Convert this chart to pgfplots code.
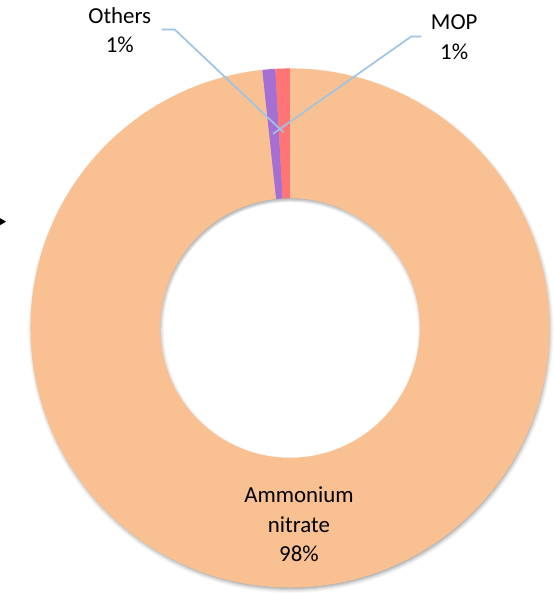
\documentclass[border=0pt]{standalone}
\usepackage{pgfplots}
\pgfplotsset{compat=1.18}
\usepackage{pgfplotstable}
\usepackage{fontspec}
\setmainfont{Carlito}

\definecolor{anorange}{HTML}{F9C191}
\definecolor{othpurple}{HTML}{A56FD3}
\definecolor{mopred}{HTML}{FF7575}
\definecolor{leader}{HTML}{9DC3E6}

% shares in percent, drawn clockwise from 12 o'clock
\pgfplotstableread{
name value
Ammonium 98.3
Others 0.8
MOP 0.9
}\sharetable

\pgfplotstablegetelem{0}{value}\of\sharetable \let\vAN\pgfplotsretval
\pgfplotstablegetelem{1}{value}\of\sharetable \let\vOT\pgfplotsretval
\pgfplotstablegetelem{2}{value}\of\sharetable \let\vMO\pgfplotsretval

\pgfmathsetmacro{\aA}{90}
\pgfmathsetmacro{\aB}{\aA-3.6*\vAN}
\pgfmathsetmacro{\aC}{\aB-3.6*\vOT}
\pgfmathsetmacro{\aD}{\aC-3.6*\vMO}

\def\Ro{260}
\def\Ri{130}

\newcommand{\ringseg}[3]{%
  \fill[#1] ([shift={(#2:\Ro bp)}]C) arc[start angle=#2, end angle=#3, radius=\Ro bp]
    -- ([shift={(#3:\Ri bp)}]C) arc[start angle=#3, end angle=#2, radius=\Ri bp] -- cycle;}
% one layer of the soft shadow: spread, opacity
\newcommand{\shadowring}[2]{%
  \fill[black, opacity=#2, even odd rule]
    ([shift={(1bp,-2.5bp)}]C) circle[radius=257bp+#1bp]
    ([shift={(1bp,-2.5bp)}]C) circle[radius=133bp-#1bp];}

\begin{document}
\begin{tikzpicture}
\begin{axis}[
  hide axis,
  scale only axis,
  width=557bp, height=593bp,
  xmin=0, xmax=557, ymin=0, ymax=593,
  y dir=reverse,
  clip=false,
]
\coordinate (C) at (axis cs:290.5,328.5);

% soft shadow
\shadowring{1}{0.08}
\shadowring{2}{0.08}
\shadowring{3}{0.07}
\shadowring{4}{0.05}
\shadowring{5}{0.04}
\shadowring{6}{0.03}
\fill[white] (C) circle[radius=126bp];

\ringseg{anorange}{\aA}{\aB}
\ringseg{othpurple}{\aB}{\aC}
\ringseg{mopred}{\aC}{\aD}

% leader lines
\draw[leader, line width=1.7pt] (axis cs:162,29.5) -- (axis cs:175,29.5) -- (axis cs:284,132.5);
\draw[leader, line width=1.7pt] (axis cs:422,36.5) -- (axis cs:412,36.5) -- (axis cs:273.5,134);

% labels
\fontsize{23}{29}\selectfont
\node[anchor=base] at (axis cs:120,23.5) {Others};
\node[anchor=base] at (axis cs:120,53) {1\%};
\node[anchor=base] at (axis cs:455,30) {MOP};
\node[anchor=base] at (axis cs:455,60) {1\%};
\node[anchor=base] at (axis cs:299.5,503) {Ammonium};
\node[anchor=base] at (axis cs:299.5,533) {nitrate};
\node[anchor=base] at (axis cs:299.5,562) {98\%};

% stray arrow tip at the left edge
\fill[black] (axis cs:0,218.5) -- (axis cs:6,222) -- (axis cs:0,225.5) -- cycle;
\end{axis}
\end{tikzpicture}
\end{document}
